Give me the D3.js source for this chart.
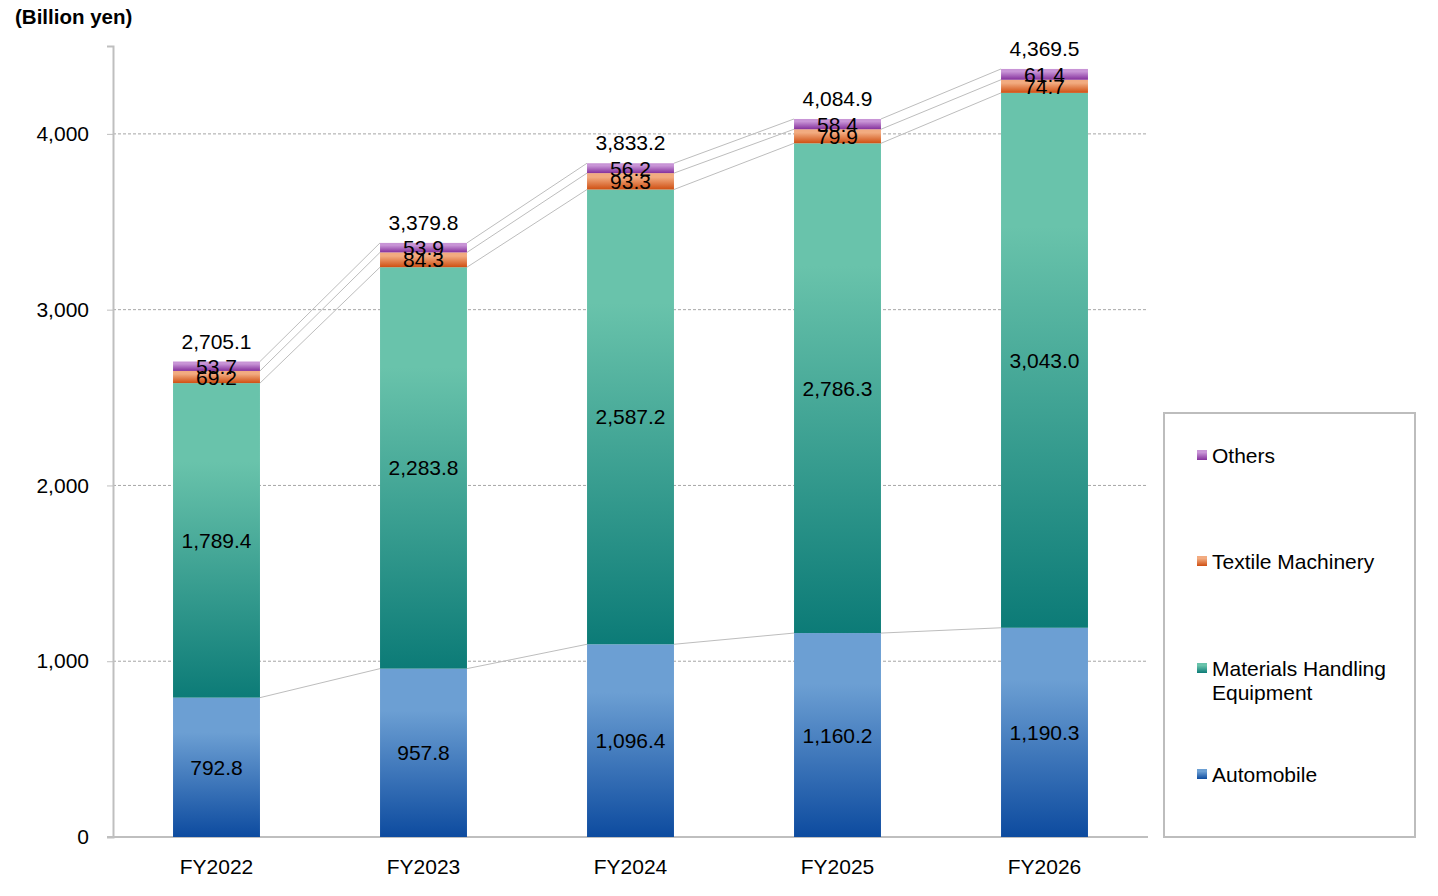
<!DOCTYPE html>
<html>
<head>
<meta charset="utf-8">
<script src="https://cdn.jsdelivr.net/npm/d3@7"></script>
<style>
  body { margin: 0; background: #fff; }
  svg { font-family: Arial, "Liberation Sans", sans-serif; }
</style>
</head>
<body>
<svg width="1438" height="896"></svg>
<script>

// Datos
let anios = ['FY2022', 'FY2023', 'FY2024', 'FY2025', 'FY2026']
let automobile = [792.8, 957.8, 1096.4, 1160.2, 1190.3]
let materiales = [1789.4, 2283.8, 2587.2, 2786.3, 3043.0]
let textil = [69.2, 84.3, 93.3, 79.9, 74.7]
let otros = [53.7, 53.9, 56.2, 58.4, 61.4]
let totales = [2705.1, 3379.8, 3833.2, 4084.9, 4369.5]
let ticks_y = [0, 1000, 2000, 3000, 4000]

let series = [
  {key: 'auto', nombre: 'Automobile', vals: automobile, c1: '#6c9fd3', c2: '#0d4b9f'},
  {key: 'mhe', nombre: 'Materials Handling Equipment', vals: materiales, c1: '#69c3ab', c2: '#0c7b77'},
  {key: 'tex', nombre: 'Textile Machinery', vals: textil, c1: '#f2ab80', c2: '#cf4f12'},
  {key: 'otr', nombre: 'Others', vals: otros, c1: '#c894d6', c2: '#84309c'}
]

let fmt = d3.format(',.1f')
let fs = 21

let svg = d3.select('svg')

/* Gradientes */
let defs = svg.append('defs')
series.forEach(s => {
  let g = defs.append('linearGradient')
    .attr('id', 'grad_' + s.key)
    .attr('x1', 0).attr('y1', 0).attr('x2', 0).attr('y2', 1)
  g.append('stop').attr('offset', '0%').attr('stop-color', s.c1)
  g.append('stop').attr('offset', '25%').attr('stop-color', s.c1)
  g.append('stop').attr('offset', '100%').attr('stop-color', s.c2)
})

/* Escalas */
let x = d3.scaleBand().domain(anios).range([113, 1148]).paddingInner(0.58).paddingOuter(0.29)
let y = d3.scaleLinear().domain([0, 4500]).range([837, 46])

// Apilado
let tabla = anios.map((a, i) => {
  let fila = {anio: a}
  series.forEach(s => fila[s.key] = s.vals[i])
  return fila
})
let pila = d3.stack().keys(series.map(s => s.key))(tabla)

/* Grilla */
svg.append('g').selectAll('line')
  .data(ticks_y.filter(t => t > 0)).enter().append('line')
  .attr('x1', 113).attr('x2', 1148)
  .attr('y1', d => y(d)).attr('y2', d => y(d))
  .attr('stroke', '#a6a6a6').attr('stroke-width', 1)
  .attr('stroke-dasharray', '3,2')

/* Ejes */
let eje_y = svg.append('g')
  .attr('transform', 'translate(113,0)')
  .call(d3.axisLeft(y).tickValues(ticks_y).tickFormat(d3.format(',')).tickSize(6).tickPadding(18))
eje_y.select('.domain').attr('stroke', '#bfbfbf').attr('stroke-width', 2)
eje_y.selectAll('.tick line').attr('stroke', '#bfbfbf').attr('stroke-width', 1)
eje_y.selectAll('text').attr('font-size', fs).attr('fill', '#000').attr('font-family', 'Arial, "Liberation Sans", sans-serif')

let eje_x = svg.append('g')
  .attr('transform', 'translate(0,837)')
  .call(d3.axisBottom(x).tickSize(0).tickPadding(22))
eje_x.select('.domain').remove()
eje_x.selectAll('text').attr('font-size', fs).attr('fill', '#000').attr('font-family', 'Arial, "Liberation Sans", sans-serif')
svg.append('line')
  .attr('x1', 107).attr('x2', 1148).attr('y1', y(0)).attr('y2', y(0))
  .attr('stroke', '#bfbfbf').attr('stroke-width', 2)

/* Lineas de serie */
let lineas = svg.append('g')
pila.forEach(capa => {
  for (let i = 0; i < capa.length - 1; i++) {
    lineas.append('line')
      .attr('x1', x(anios[i]) + x.bandwidth())
      .attr('y1', y(capa[i][1]))
      .attr('x2', x(anios[i + 1]))
      .attr('y2', y(capa[i + 1][1]))
      .attr('stroke', '#bdbdbd').attr('stroke-width', 1)
  }
})

/* Barras */
let capas = svg.append('g').selectAll('g.capa')
  .data(pila).enter().append('g')
  .attr('class', 'capa')
  .attr('fill', d => `url(#grad_${d.key})`)

capas.selectAll('rect')
  .data(d => d).enter().append('rect')
  .attr('x', d => x(d.data.anio))
  .attr('width', x.bandwidth())
  .attr('y', d => y(d[1]))
  .attr('height', d => y(d[0]) - y(d[1]))

/* Etiquetas */
let etiquetas = svg.append('g')
  .attr('font-size', fs).attr('text-anchor', 'middle').attr('fill', '#000')
pila.forEach(capa => {
  etiquetas.selectAll(null)
    .data(capa).enter().append('text')
    .attr('x', d => x(d.data.anio) + x.bandwidth() / 2)
    .attr('y', d => (y(d[0]) + y(d[1])) / 2)
    .attr('dy', '0.36em')
    .text(d => fmt(d[1] - d[0]))
})

etiquetas.selectAll(null)
  .data(totales).enter().append('text')
  .attr('x', (d, i) => x(anios[i]) + x.bandwidth() / 2)
  .attr('y', d => y(d) - 13)
  .text(d => fmt(d))

/* Titulo unidad */
svg.append('text')
  .attr('x', 15).attr('y', 24)
  .attr('font-size', 20.5).attr('font-weight', 'bold')
  .text('(Billion yen)')

/* Leyenda */
let leyenda = svg.append('g')
leyenda.append('rect')
  .attr('x', 1164).attr('y', 413).attr('width', 251).attr('height', 424)
  .attr('fill', '#fff').attr('stroke', '#bdbdbd').attr('stroke-width', 2)

let items = [
  {s: series[3], y: 455, lineas: ['Others']},
  {s: series[2], y: 561, lineas: ['Textile Machinery']},
  {s: series[1], y: 668, lineas: ['Materials Handling', 'Equipment']},
  {s: series[0], y: 774, lineas: ['Automobile']}
]
items.forEach(it => {
  leyenda.append('rect')
    .attr('x', 1197).attr('y', it.y - 5).attr('width', 10).attr('height', 10)
    .attr('fill', `url(#grad_${it.s.key})`)
  let t = leyenda.append('text')
    .attr('x', 1212).attr('y', it.y)
    .attr('font-size', fs)
  it.lineas.forEach((l, j) => {
    t.append('tspan').attr('x', 1212).attr('dy', j == 0 ? '0.36em' : 24).text(l)
  })
})

</script>
</body>
</html>
